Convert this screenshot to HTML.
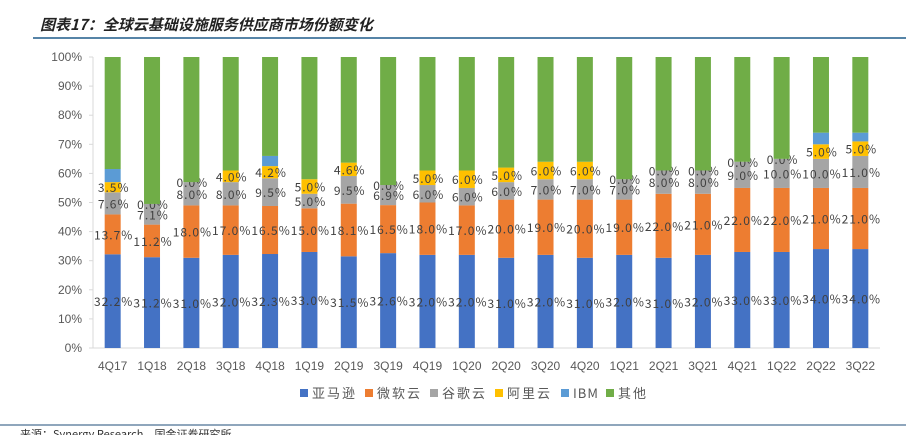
<!DOCTYPE html>
<html><head><meta charset="utf-8"><style>
body{margin:0;width:906px;height:435px;overflow:hidden;background:#fff;font-family:"Liberation Sans","Noto Sans CJK SC",sans-serif;}
</style></head><body>
<svg width="906" height="435" xmlns="http://www.w3.org/2000/svg" id="chart">
<text x="40" y="30" font-size="15" font-style="italic" font-weight="bold" fill="#222" font-family="'Noto Sans CJK SC',sans-serif">图表17：全球云基础设施服务供应商市场份额变化</text>
<line x1="33" y1="38" x2="906" y2="38" stroke="#1f5b8a" stroke-width="1.5"/>
<line x1="0" y1="425" x2="906" y2="425" stroke="#1f4e79" stroke-width="1"/>
<text x="20" y="438" font-size="11" fill="#333" font-family="'Noto Sans CJK SC',sans-serif">来源：Synergy Research，国金证券研究所</text>
<g id="plot"></g>
</svg>
<script>
const categories=["4Q17","1Q18","2Q18","3Q18","4Q18","1Q19","2Q19","3Q19","4Q19","1Q20","2Q20","3Q20","4Q20","1Q21","2Q21","3Q21","4Q21","1Q22","2Q22","3Q22"];
const amazon=[32.2,31.2,31.0,32.0,32.3,33.0,31.5,32.6,32.0,32.0,31.0,32.0,31.0,32.0,31.0,32.0,33.0,33.0,34.0,34.0];
const microsoft=[13.7,11.2,18.0,17.0,16.5,15.0,18.1,16.5,18.0,17.0,20.0,19.0,20.0,19.0,22.0,21.0,22.0,22.0,21.0,21.0];
const google=[7.6,7.1,8.0,8.0,9.5,5.0,9.5,6.9,6.0,6.0,6.0,7.0,7.0,7.0,8.0,8.0,9.0,10.0,10.0,11.0];
const alibaba=[3.5,0.0,0.0,4.0,4.2,5.0,4.6,0.0,5.0,6.0,5.0,6.0,6.0,0.0,0.0,0.0,0.0,0.0,5.0,5.0];
const ibm=[4.5,0,0,0,3.5,0,0,0,0,0,0,0,0,0,0,0,0,0,4.0,3.0];
const yTicks=[0,10,20,30,40,50,60,70,80,90,100];
const seriesNames=["亚马逊","微软云","谷歌云","阿里云","IBM","其他"];
const colors=["#4472c4","#ed7d31","#a5a5a5","#ffc000","#5b9bd5","#70ad47"];
const NS="http://www.w3.org/2000/svg";
const g=document.getElementById('plot');
const x0=93,x1=880,yTop=57,yBot=348;
const step=(x1-x0)/categories.length,bw=16;
const y=v=>yBot-(yBot-yTop)*v/100;
const xc=i=>x0+step*(i+0.5);
function el(t,a){const e=document.createElementNS(NS,t);for(const k in a)e.setAttribute(k,a[k]);g.appendChild(e);return e;}
const axis=el('line',{x1:x0,y1:yTop,x2:x0,y2:yBot,stroke:'#d9d9d9'});


yTicks.forEach(t=>{
 const tl=el('line',{x1:x0-4,y1:y(t),x2:x0,y2:y(t),stroke:'#d9d9d9'});
 
 
 const tx=el('text',{x:x0-11,y:y(t)+4,'font-size':12,fill:'#595959','text-anchor':'end'});
 tx.textContent=t+'%';
 
 
});
const xa=el('line',{x1:x0,y1:yBot,x2:x1,y2:yBot,stroke:'#d9d9d9'});


const labStyle={'font-size':12,fill:'#404040','text-anchor':'middle','font-family':"'Noto Sans CJK SC',sans-serif",'letter-spacing':'1'};
categories.forEach((c,i)=>{
 const vals=[amazon[i],microsoft[i],google[i],alibaba[i],ibm[i]];
 const sum=vals.reduce((a,b)=>a+b,0);
 vals.push(100-sum);
 let acc=0;
 vals.forEach((v,s)=>{
  const r=el('rect',{x:xc(i)-bw/2,y:y(acc+v),width:bw,height:Math.max(0,y(acc)-y(acc+v)),fill:colors[s]});
  
  
  if(s<4){
   const t=el('text',Object.assign({x:xc(i)+1,y:y(acc+v/2)+5},labStyle));
   t.textContent=v.toFixed(1)+'%';
   
   
  }
  acc+=v;
 });
 const xl=el('text',{x:xc(i),y:370,'font-size':12,fill:'#595959','text-anchor':'middle'});
 xl.textContent=c;
 
 
});
const lx=[300,365,430,495,561,606];
seriesNames.forEach((n,s)=>{
 const r=el('rect',{x:lx[s],y:389,width:8,height:8,fill:colors[s]});
 
 
 const t=el('text',{x:lx[s]+12,y:398,'font-size':13,fill:'#595959','letter-spacing':s===4?'1':'2','font-family':"'Noto Sans CJK SC',sans-serif"});
 t.textContent=n;
 
 
});
</script>
</body></html>
